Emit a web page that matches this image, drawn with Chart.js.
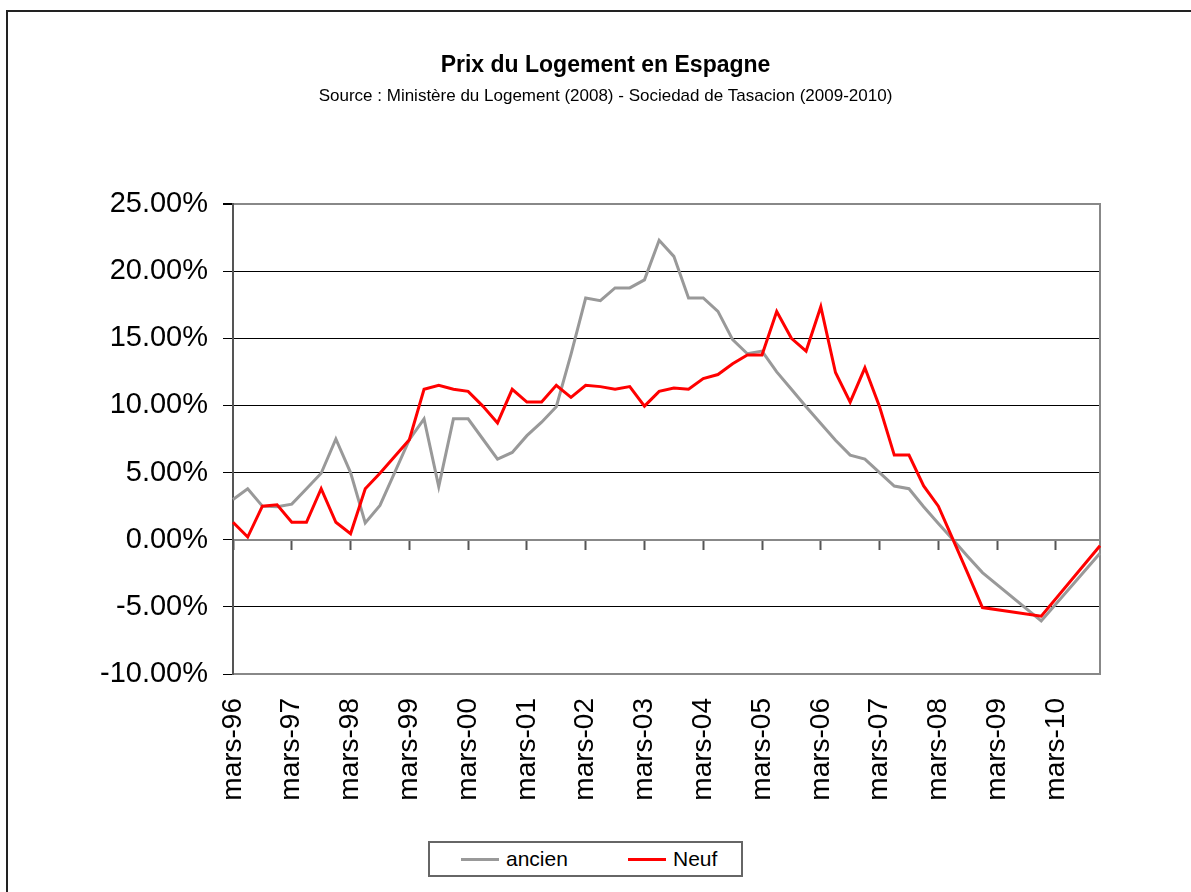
<!DOCTYPE html>
<html>
<head>
<meta charset="utf-8">
<script src="https://cdn.jsdelivr.net/npm/chart.js@4.4.1/dist/chart.umd.min.js"></script>
<style>
  html, body { margin:0; padding:0; background:#fff; overflow:hidden; width:1191px; height:892px; }
  #frame { position:absolute; left:6px; top:10px; width:1300px; height:1000px; border:2px solid #222; box-sizing:border-box; }
  #wrap { position:absolute; left:0; top:0; width:1191px; height:892px; }
  #legend { position:absolute; left:428px; top:841px; width:315px; height:36px; border:2px solid #666; box-sizing:border-box; background:#fff;
            font-family:"Liberation Sans", Arial, sans-serif; font-size:21px; color:#000; }
  .li { position:absolute; top:0; height:32px; line-height:32px; white-space:nowrap; }
  .sw { position:absolute; top:15px; width:38px; height:3px; }
</style>
</head>
<body>
<div id="frame"></div>
<div id="wrap"><canvas id="c" width="1191" height="892"></canvas></div>
<div id="legend">
  <span class="sw" style="left:31px;background:#999999;"></span><span class="li" style="left:76px;">ancien</span>
  <span class="sw" style="left:198px;background:#ff0000;"></span><span class="li" style="left:243px;">Neuf</span>
</div>
<script>
// Quarterly categories (mars-96 ... déc-10)
const categories = [
  'mars-96','juin-96','sept-96','déc-96','mars-97','juin-97','sept-97','déc-97',
  'mars-98','juin-98','sept-98','déc-98','mars-99','juin-99','sept-99','déc-99',
  'mars-00','juin-00','sept-00','déc-00','mars-01','juin-01','sept-01','déc-01',
  'mars-02','juin-02','sept-02','déc-02','mars-03','juin-03','sept-03','déc-03',
  'mars-04','juin-04','sept-04','déc-04','mars-05','juin-05','sept-05','déc-05',
  'mars-06','juin-06','sept-06','déc-06','mars-07','juin-07','sept-07','déc-07',
  'mars-08','juin-08','sept-08','déc-08','mars-09','juin-09','sept-09','déc-09',
  'mars-10','juin-10','sept-10','déc-10'
];

// Year-on-year change, % (null = no observation, line connects across)
const ancien = [
  3.0, 3.8, 2.5, 2.45, 2.65, 3.8, 4.95, 7.5,
  5.0, 1.25, 2.55, 5.0, 7.45, 9.0, 3.95, 9.0,
  9.0, 7.5, 6.0, 6.5, 7.75, 8.75, 9.9, 13.8,
  18.0, 17.8, 18.75, 18.75, 19.35, 22.3, 21.1, 18.0,
  18.0, 17.0, 14.9, 13.85, 14.05, 12.5, 11.2, 9.9,
  8.65, 7.4, 6.3, 6.0, 5.0, 4.0, 3.8, 2.45,
  1.2, 0.0, -1.25, -2.45, null, null, null, -6.05,
  null, null, null, -1.0
];
const neuf = [
  1.3, 0.2, 2.5, 2.6, 1.3, 1.3, 3.8, 1.3,
  0.45, 3.8, 4.95, 6.2, 7.45, 11.2, 11.5, 11.2,
  11.05, 9.95, 8.7, 11.2, 10.25, 10.25, 11.5, 10.6,
  11.5, 11.4, 11.2, 11.4, 9.95, 11.05, 11.3, 11.2,
  12.0, 12.3, 13.1, 13.75, 13.75, 17.0, 15.0, 14.05,
  17.35, 12.45, 10.25, 12.8, 9.9, 6.3, 6.3, 4.0,
  2.5, 0.0, -2.5, -5.05, null, null, null, -5.7,
  null, null, null, -0.45
];

const yMin = -10, yMax = 25, yStep = 5;
const labelEvery = 4;
const FONT = "'Liberation Sans', Arial, sans-serif";

new Chart(document.getElementById('c'), {
  type: 'line',
  data: {
    labels: categories,
    datasets: [
      { label: 'ancien', data: ancien, borderColor: '#999999', backgroundColor: '#999999',
        borderWidth: 3, pointRadius: 0, tension: 0, spanGaps: true, order: 1 },
      { label: 'Neuf', data: neuf, borderColor: '#ff0000', backgroundColor: '#ff0000',
        borderWidth: 3, pointRadius: 0, tension: 0, spanGaps: true, order: 0 }
    ]
  },
  options: {
    responsive: false,
    devicePixelRatio: 1,
    animation: false,
    layout: { padding: { left: 20, right: 0, top: 0, bottom: 0 } },
    plugins: {
      legend: { display: false },
      tooltip: { enabled: false },
      title: {
        display: true, text: 'Prix du Logement en Espagne', color: '#000',
        font: { family: FONT, size: 23, weight: 'bold' },
        padding: { top: 52, bottom: 0 }
      },
      subtitle: {
        display: true, text: 'Source : Ministère du Logement (2008) - Sociedad de Tasacion (2009-2010)', color: '#000',
        font: { family: FONT, size: 17 },
        padding: { top: 7, bottom: 97 }
      }
    },
    scales: {
      x: {
        type: 'category', position: 'bottom', offset: false,
        grid: { display: true, drawOnChartArea: false, drawTicks: false },
        border: { display: true, color: '#888', width: 2 },
        ticks: {
          autoSkip: false, minRotation: 90, maxRotation: 90, padding: 24, color: '#000',
          font: { family: FONT, size: 28 },
          callback: function (v, i) { return i % labelEvery === 0 ? this.getLabelForValue(v) : ''; }
        },
        afterFit: (s) => { s.height = 218; }
      },
      x2: {
        type: 'category', position: { y: 0 }, offset: false,
        grid: {
          drawOnChartArea: false, drawTicks: true, tickLength: 9, tickWidth: 2,
          tickColor: (ctx) => (ctx.index % labelEvery === 0 ? '#555' : 'rgba(0,0,0,0)')
        },
        border: { display: true, color: '#888', width: 2 },
        ticks: { display: false }
      },
      y: {
        min: yMin, max: yMax,
        ticks: {
          stepSize: yStep, padding: 15, color: '#000',
          font: { family: FONT, size: 29 },
          callback: (v) => v.toFixed(2) + '%'
        },
        grid: {
          drawTicks: true, tickLength: 10, tickColor: '#000',
          color: (ctx) => (ctx.tick && (ctx.tick.value === yMax || ctx.tick.value === 0) ? '#888' : '#000'),
          lineWidth: (ctx) => (ctx.tick && ctx.tick.value === yMax ? 2 : 1)
        },
        border: { display: true, color: '#555', width: 2 },
        afterFit: (s) => { s.width = 213; }
      },
      y2: {
        position: 'right',
        grid: { display: false },
        ticks: { display: false },
        border: { display: true, color: '#888', width: 2 },
        afterFit: (s) => { s.width = 91; }
      }
    }
  }
});
</script>
</body>
</html>
